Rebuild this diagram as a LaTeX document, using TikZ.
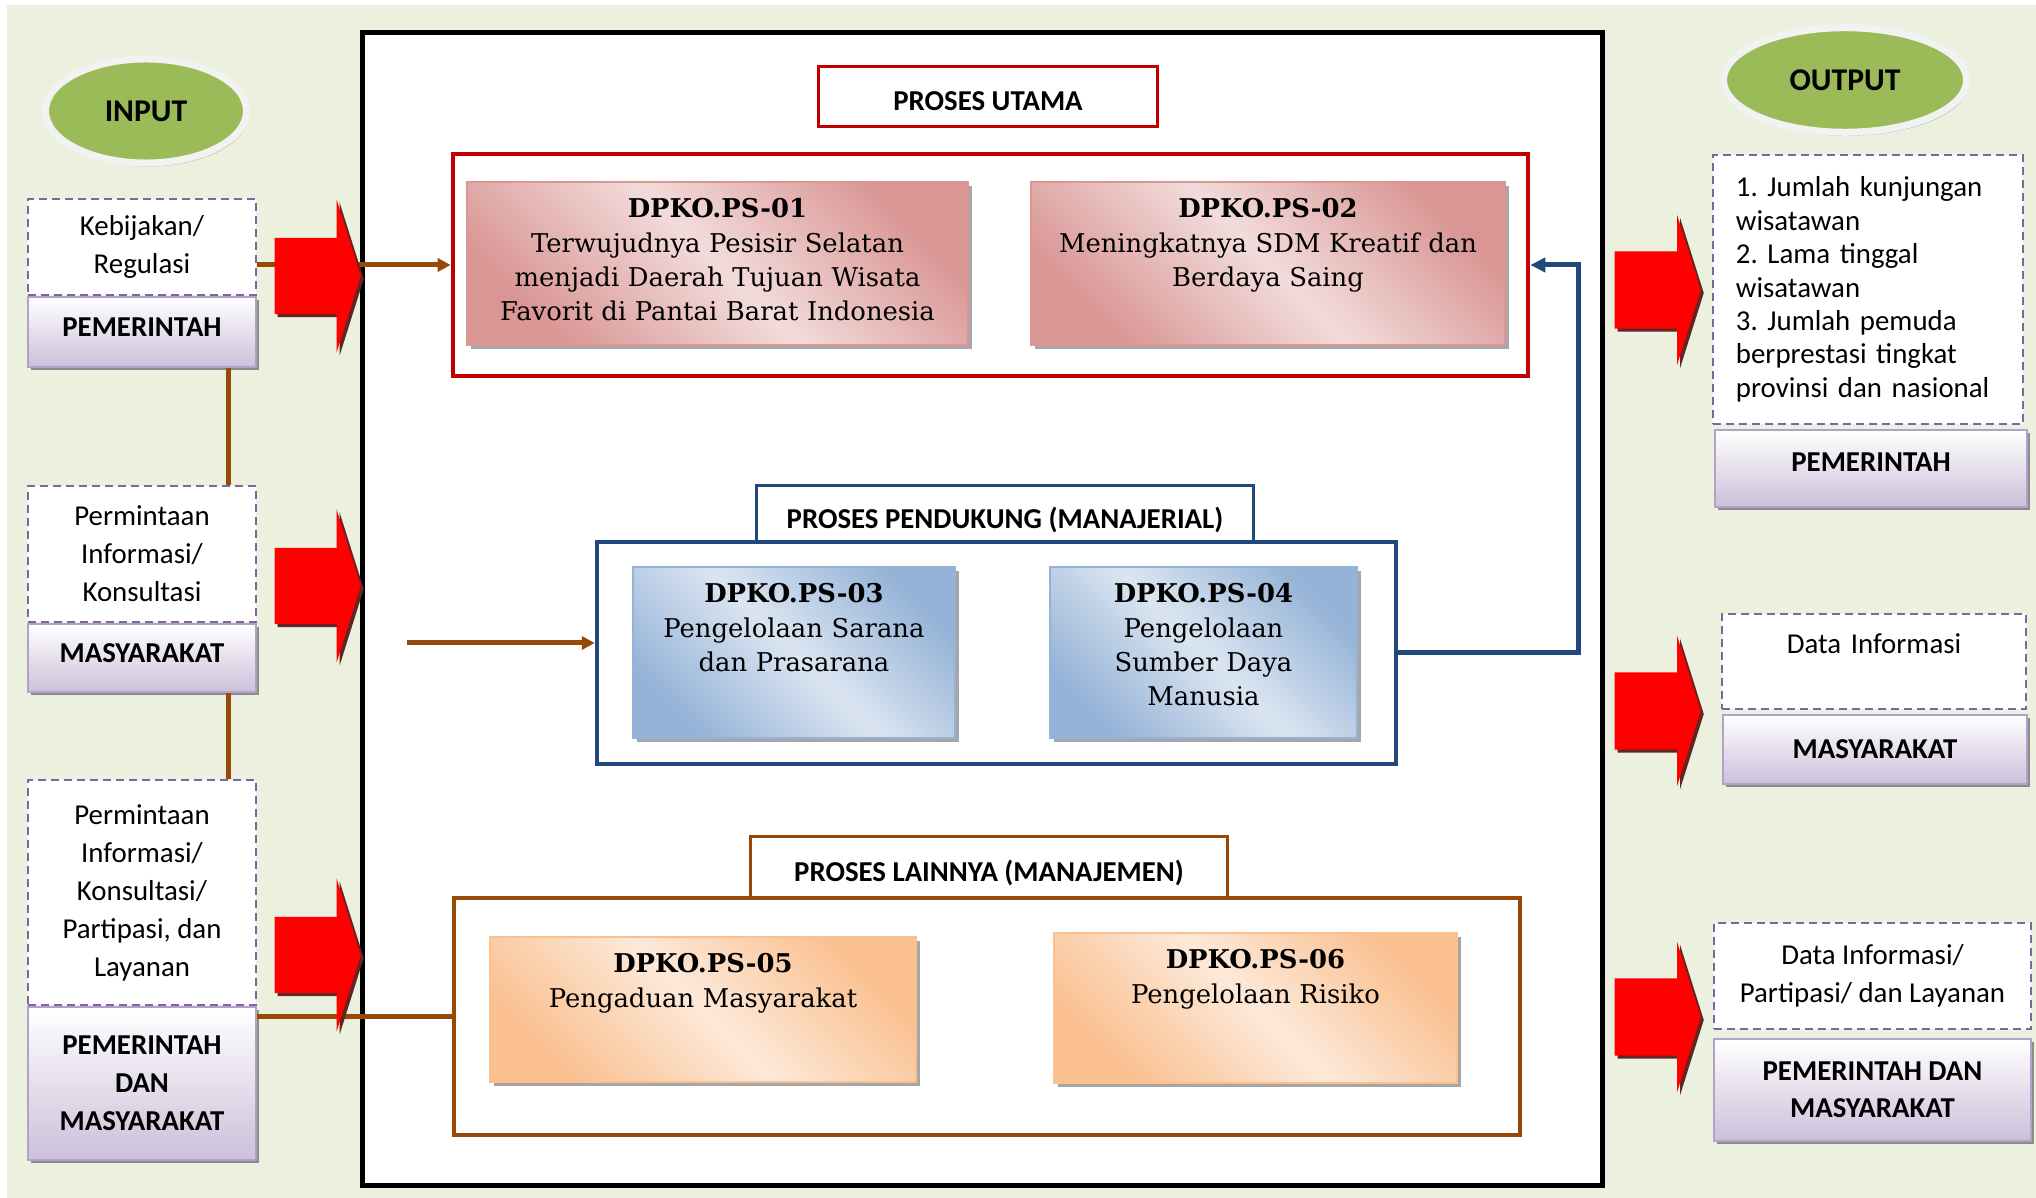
\documentclass[tikz,border=0pt]{standalone}
\usepackage{fontspec}
\setmainfont{DejaVu Serif}
\newfontfamily\calibri{Carlito}
\usepackage{xcolor}
\usetikzlibrary{arrows.meta,positioning,shapes.geometric,shapes.arrows,shadows,calc}
\frenchspacing
\definecolor{bggreen}{HTML}{EBF1DE}
\definecolor{mainred}{HTML}{C00000}
\definecolor{pinklt}{HTML}{F2DCDB}
\definecolor{pinkdk}{HTML}{D99694}
\definecolor{navy}{HTML}{1F497D}
\definecolor{bluelt}{HTML}{DBE5F1}
\definecolor{bluedk}{HTML}{95B3D7}
\definecolor{rust}{HTML}{984807}
\definecolor{peachlt}{HTML}{FDE9D9}
\definecolor{peachdk}{HTML}{FAC090}
\definecolor{dashviolet}{HTML}{8064A2}
\definecolor{lavender}{HTML}{CCC0DA}
\definecolor{lavline}{HTML}{B3A2C7}
\definecolor{ovalgreen}{HTML}{9BBB59}
\definecolor{arrowdk}{HTML}{632523}
\tikzset{
  groupbox/.style={
    rectangle, draw=#1, line width=0.04cm, fill=white, inner sep=0pt
  },
  headbox/.style={
    rectangle, draw=#1, line width=0.03cm, fill=white, inner sep=0pt,
    text height=0.29cm, text depth=0cm,
    font=\calibri\bfseries\fontsize{8.2}{10}\selectfont
  },
  procbox/.style 2 args={
    rectangle, draw=#2, line width=0.015cm,
    top color=#2, bottom color=#2, middle color=#1, shading angle=-45,
    drop shadow={shadow xshift=0.04cm, shadow yshift=-0.04cm,
                 fill=black!35, opacity=1},
    font=\fontsize{7.35}{9.7}\selectfont, align=center,
    inner xsep=0.05cm, inner ysep=0pt, text height=0.36cm
  },
  dashbox/.style={
    rectangle, draw=dashviolet, dash pattern=on 0.08cm off 0.05cm,
    line width=0.02cm, fill=white, align=center, inner sep=0pt,
    font=\calibri\fontsize{8.2}{#1}\selectfont
  },
  dashbox/.default=10.8,
  rolebox/.style={
    rectangle, draw=lavline, line width=0.02cm,
    top color=white, bottom color=lavender, align=center, inner sep=0pt,
    drop shadow={shadow xshift=0.03cm, shadow yshift=-0.03cm,
                 fill=black!45, opacity=1},
    font=\calibri\bfseries\fontsize{8.2}{#1}\selectfont
  },
  rolebox/.default=10.8,
  oval/.style={
    ellipse, draw=white!95!black, line width=0.07cm, fill=ovalgreen,
    inner sep=0pt,
    drop shadow={shadow xshift=0.02cm, shadow yshift=-0.035cm,
                 fill=black!55, opacity=.45},
    font=\calibri\bfseries\fontsize{9}{11}\selectfont
  },
  bigarrow/.style 2 args={
    single arrow, fill=red, draw=none, anchor=tail,
    inner xsep=0pt, inner ysep=#1, minimum height=0.86cm,
    single arrow head extend=#2, single arrow tip angle=145,
    drop shadow={shadow xshift=0.03cm, shadow yshift=-0.03cm,
                 fill=arrowdk, opacity=1}
  },
  linkline/.style={draw=rust, line width=0.05cm},
  linkarrow/.style={linkline, -{Triangle[length=0.13cm,width=0.13cm]}},
  backarrow/.style={draw=navy, line width=0.05cm,
    -{Triangle[length=0.15cm,width=0.14cm]}},
}
\begin{document}
\begin{tikzpicture}[x=0.01cm, y=-0.01cm]
  \useasboundingbox (0,0) rectangle (2036,1198);
  \fill[bggreen] (7,5) rectangle (2036,1198);

  \node[draw, line width=0.05cm, fill=white, inner sep=0pt,
    minimum width=12.39cm, minimum height=11.52cm] (frame) at (982.5,609) {};

  % process groups
  \node[headbox=mainred, minimum width=3.38cm, minimum height=0.59cm]
    (hutama) at (988,96.5) {PROSES UTAMA};
  \node[groupbox=mainred, minimum width=10.75cm, minimum height=2.22cm]
    (utama) at (990.5,265) {};
  \node[procbox={pinklt}{pinkdk}, text width=4.9cm, minimum width=5.01cm,
    minimum height=1.63cm, text depth=1.27cm] (ps01) at (717.5,263.5)
    {\textbf{DPKO.PS-01}\\Terwujudnya Pesisir Selatan\\menjadi Daerah Tujuan Wisata\\Favorit di Pantai Barat Indonesia};
  \node[procbox={pinklt}{pinkdk}, text width=4.64cm, minimum width=4.74cm,
    minimum height=1.63cm, text depth=1.27cm] (ps02) at (1268,263.5)
    {\textbf{DPKO.PS-02}\\Meningkatnya SDM Kreatif dan\\Berdaya Saing};

  \node[groupbox=navy, minimum width=7.99cm, minimum height=2.22cm]
    (pendukung) at (996.5,653) {};
  \node[headbox=navy, minimum width=4.96cm, minimum height=0.55cm]
    (hpendukung) at (1005,513.5) {PROSES PENDUKUNG (MANAJERIAL)};
  \node[procbox={bluelt}{bluedk}, text width=3.12cm, minimum width=3.22cm,
    minimum height=1.71cm, text depth=1.35cm] (ps03) at (794,652.5)
    {\textbf{DPKO.PS-03}\\Pengelolaan Sarana\\dan Prasarana};
  \node[procbox={bluelt}{bluedk}, text width=2.97cm, minimum width=3.07cm,
    minimum height=1.71cm, text depth=1.35cm] (ps04) at (1203.5,652.5)
    {\textbf{DPKO.PS-04}\\Pengelolaan\\Sumber Daya\\Manusia};

  \node[groupbox=rust, minimum width=10.66cm, minimum height=2.37cm]
    (lainnya) at (987,1016.5) {};
  \node[headbox=rust, minimum width=4.76cm, minimum height=0.6cm]
    (hlainnya) at (989,867) {PROSES LAINNYA (MANAJEMEN)};
  \node[procbox={peachlt}{peachdk}, text width=4.16cm, minimum width=4.26cm,
    minimum height=1.45cm, text depth=1.09cm] (ps05) at (703,1009.5)
    {\textbf{DPKO.PS-05}\\Pengaduan Masyarakat};
  \node[procbox={peachlt}{peachdk}, text width=3.93cm, minimum width=4.03cm,
    minimum height=1.5cm, text depth=1.14cm] (ps06) at (1255.5,1008)
    {\textbf{DPKO.PS-06}\\Pengelolaan Risiko};

  % input side
  \node[oval, minimum width=2.01cm, minimum height=1.04cm]
    (inoval) at (146,111) {INPUT};
  \node[dashbox, minimum width=2.28cm, minimum height=0.96cm]
    (in1) at (142,247) {Kebijakan/\\Regulasi};
  \node[rolebox, minimum width=2.28cm, minimum height=0.7cm,
    text depth=0.1cm, below=0pt of in1] (lab1) {PEMERINTAH};
  \node[dashbox, minimum width=2.28cm, minimum height=1.36cm]
    (in2) at (142,554) {Permintaan\\Informasi/\\Konsultasi};
  \node[rolebox, minimum width=2.28cm, minimum height=0.68cm,
    text depth=0.1cm, below=0pt of in2] (lab2) {MASYARAKAT};
  \node[dashbox, minimum width=2.28cm, minimum height=2.25cm]
    (in3) at (142,892.5)
    {Permintaan\\Informasi/\\Konsultasi/\\Partipasi, dan\\Layanan};
  \node[rolebox, minimum width=2.28cm, minimum height=1.53cm,
    below=0pt of in3] (lab3) {PEMERINTAH\\DAN\\MASYARAKAT};

  % output side
  \node[oval, minimum width=2.43cm, minimum height=1.045cm]
    (outoval) at (1845,80) {OUTPUT};
  \node[dashbox=9.5, align=left, text width=2.64cm,
    minimum width=3.1cm, minimum height=2.69cm] (out1) at (1868,289.5)
    {1. Jumlah kunjungan\\wisatawan\\2. Lama tinggal\\wisatawan\\3. Jumlah pemuda\\berprestasi tingkat\\provinsi dan nasional};
  \node[rolebox, minimum width=3.12cm, minimum height=0.77cm,
    text depth=0.12cm] (olab1) at (1871,468.5) {PEMERINTAH};
  \node[dashbox, text width=2.9cm, minimum width=3.04cm,
    text height=0.4cm, text depth=0.55cm] (out2) at (1874,661.5)
    {Data Informasi};
  \node[rolebox, minimum width=3.04cm, minimum height=0.69cm]
    (olab2) at (1875,749.5) {MASYARAKAT};
  \node[dashbox, minimum width=3.17cm, minimum height=1.06cm]
    (out3) at (1872.5,976) {Data Informasi/\\Partipasi/ dan Layanan};
  \node[rolebox=10.5, minimum width=3.17cm, minimum height=1.015cm]
    (olab3) at (1872.5,1090) {PEMERINTAH DAN\\MASYARAKAT};

  % input links
  \draw[linkarrow] (in1.east |- utama.west) -- (utama.west);
  \draw[linkline] ([xshift=0.86cm]lab1.south) -- ([xshift=0.86cm]in2.north);
  \draw[linkline] ([xshift=0.86cm]lab2.south) -- ([xshift=0.86cm]in3.north);
  \draw[linkline] (lab3.east |- lainnya.west) -- (lainnya.west);

  % feed into the support group, and back up to the main group
  \coordinate (feed) at (407,643);
  \draw[linkarrow] (feed) -- (feed -| pendukung.west);
  \draw[backarrow] (pendukung.east) -- ++(180,0) |- (utama.east);

  % big red arrows
  \node[bigarrow={0.375cm}{0.385cm}] (inarrA) at (274,276) {};
  \node[bigarrow={0.375cm}{0.385cm}] (inarrB) at (274,586) {};
  \node[bigarrow={0.375cm}{0.385cm}] (inarrC) at (274,955) {};
  \node[bigarrow={0.38cm}{0.365cm}] (outarrA) at (1614,290) {};
  \node[bigarrow={0.38cm}{0.365cm}] (outarrB) at (1614,711) {};
  \node[bigarrow={0.38cm}{0.365cm}] (outarrC) at (1614,1017) {};
\end{tikzpicture}
\end{document}
